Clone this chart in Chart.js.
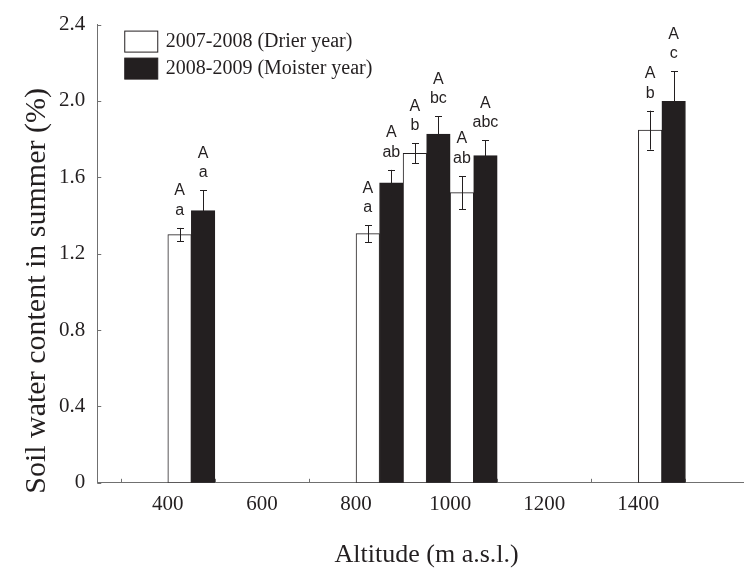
<!DOCTYPE html>
<html>
<head>
<meta charset="utf-8">
<script src="https://cdn.jsdelivr.net/npm/chart.js@4.4.0/dist/chart.umd.min.js"></script>
<style>
	html, body { margin: 0; padding: 0; background: #fff; overflow: hidden; }
	#wrap { width: 744px; height: 568px; overflow: hidden; }
</style>
</head>
<body>
<div id="wrap"><canvas id="graficaAgua" width="757" height="568"></canvas></div>
<script>
// sites (m a.s.l.), each bar takes 50 m of the axis
const sites = [400, 800, 900, 1000, 1400];
const barSpan = 50;

const drier = [1.30, 1.305, 1.726, 1.52, 1.847];
const drierErr = [0.035, 0.045, 0.052, 0.087, 0.102];
const moister = [1.426, 1.571, 1.827, 1.714, 1.998];
const moisterErr = [0.106, 0.068, 0.092, 0.079, 0.157];

const drierLetters = [['A', 'a'], ['A', 'a'], ['A', 'b'], ['A', 'ab'], ['A', 'b']];
const moisterLetters = [['A', 'a'], ['A', 'ab'], ['A', 'bc'], ['A', 'abc'], ['A', 'c']];

const xLabels = [400, 600, 800, 1000, 1200, 1400];
const yTitle = 'Soil water content in summer (%)';

const ink = '#231f20';
const axisColor = '#707070';
const serif = "'Liberation Serif', 'Times New Roman', serif";
const sans = "'Liberation Sans', Arial, sans-serif";

const extras = {
	id: 'extras',
	beforeDatasetsDraw(chart) {
		// short ticks pointing into the plot
		const ctx = chart.ctx, x = chart.scales.x, y = chart.scales.y;
		ctx.save();
		ctx.strokeStyle = axisColor;
		ctx.lineWidth = 1;
		ctx.beginPath();
		x.ticks.forEach(function (t) {
			if (t.value % 200 === 0) return;
			let px = Math.round(x.getPixelForValue(t.value)) + 0.5;
			ctx.moveTo(px, y.bottom);
			ctx.lineTo(px, y.bottom - 4);
		});
		y.ticks.forEach(function (t) {
			let py = Math.round(y.getPixelForValue(t.value)) + 0.5;
			ctx.moveTo(x.left, py);
			ctx.lineTo(x.left + 4, py);
		});
		ctx.stroke();
		ctx.restore();
	},
	afterDatasetsDraw(chart) {
		const ctx = chart.ctx, y = chart.scales.y;
		ctx.save();
		chart.data.datasets.forEach(function (ds, d) {
			let meta = chart.getDatasetMeta(d);
			meta.data.forEach(function (bar, i) {
				let v = ds.data[i].y, e = ds.errors[i];
				let top = y.getPixelForValue(v + e);
				let bottom = y.getPixelForValue(v - e);
				let cx = Math.round(bar.x) + 0.5;
				ctx.strokeStyle = ink;
				ctx.lineWidth = 1;
				ctx.beginPath();
				ctx.moveTo(cx, top);
				ctx.lineTo(cx, bottom);
				ctx.moveTo(cx - 3.5, Math.round(top) + 0.5);
				ctx.lineTo(cx + 3.5, Math.round(top) + 0.5);
				ctx.moveTo(cx - 3.5, Math.round(bottom) + 0.5);
				ctx.lineTo(cx + 3.5, Math.round(bottom) + 0.5);
				ctx.stroke();

				ctx.fillStyle = ink;
				ctx.font = '16px ' + sans;
				ctx.textAlign = 'center';
				ctx.textBaseline = 'alphabetic';
				ctx.fillText(ds.letters[i][1], bar.x, top - 13);
				ctx.fillText(ds.letters[i][0], bar.x, top - 32.5);
			});
		});
		ctx.restore();
	},
	afterDraw(chart) {
		const ctx = chart.ctx, area = chart.chartArea;
		ctx.save();
		// legend in the upper left corner of the plot
		chart.data.datasets.forEach(function (ds, d) {
			let bx = area.left + 27.5, by = area.top + 6.5 + d * 27;
			ctx.fillStyle = ds.backgroundColor;
			ctx.fillRect(bx, by, 33, 21);
			ctx.strokeStyle = ink;
			ctx.lineWidth = 1;
			ctx.strokeRect(bx, by, 33, 21);
			ctx.fillStyle = ink;
			ctx.font = '20px ' + serif;
			ctx.textAlign = 'left';
			ctx.textBaseline = 'middle';
			ctx.fillText(ds.label, bx + 41, by + 11);
		});
		// y axis title, starts a bit under the x axis like the original
		ctx.translate(area.left - 60, area.bottom + 11);
		ctx.rotate(-Math.PI / 2);
		ctx.font = '30px ' + serif;
		ctx.textAlign = 'left';
		ctx.textBaseline = 'middle';
		ctx.fillText(yTitle, 0, 0);
		ctx.restore();
	}
};

new Chart(document.getElementById('graficaAgua'), {
	type: 'bar',
	data: {
		datasets: [{
			label: '2007-2008 (Drier year)',
			data: drier.map((v, i) => ({ x: sites[i] + barSpan / 2, y: v })),
			errors: drierErr,
			letters: drierLetters,
			backgroundColor: '#ffffff',
			borderColor: ink,
			borderWidth: 1,
			borderSkipped: false
		}, {
			label: '2008-2009 (Moister year)',
			data: moister.map((v, i) => ({ x: sites[i] + barSpan * 1.5, y: v })),
			errors: moisterErr,
			letters: moisterLetters,
			backgroundColor: ink,
			borderColor: ink,
			borderWidth: 1,
			borderSkipped: false
		}]
	},
	options: {
		responsive: false,
		animation: false,
		grouped: false,
		barPercentage: 1,
		categoryPercentage: 1,
		layout: { padding: { left: 47, top: 4, right: 1, bottom: 0 } },
		plugins: {
			legend: { display: false },
			tooltip: { enabled: false }
		},
		scales: {
			x: {
				type: 'linear',
				min: 300,
				max: 1600,
				grid: { display: false, drawTicks: false },
				border: { display: true, color: axisColor, width: 1 },
				ticks: {
					stepSize: 100,
					autoSkip: false,
					maxRotation: 0,
					padding: 9,
					color: ink,
					font: { family: serif, size: 21 },
					callback: (v) => xLabels.includes(v) ? String(v) : ''
				},
				title: {
					display: true,
					text: 'Altitude (m a.s.l.)',
					color: ink,
					font: { family: serif, size: 26, lineHeight: 1 },
					padding: { top: 16, bottom: 0 }
				}
			},
			y: {
				min: 0,
				max: 2.4,
				grid: { display: false, drawTicks: false },
				border: { display: true, color: axisColor, width: 1 },
				ticks: {
					stepSize: 0.4,
					padding: 12,
					color: ink,
					font: { family: serif, size: 21 },
					callback: (v) => v === 0 ? '0' : v.toFixed(1)
				}
			}
		}
	},
	plugins: [extras]
});
</script>
</body>
</html>
